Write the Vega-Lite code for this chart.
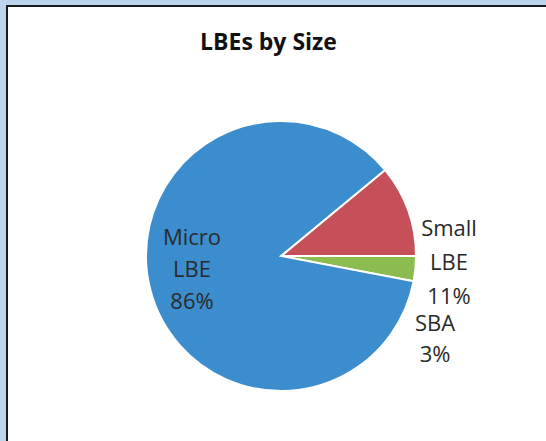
{
  "$schema": "https://vega.github.io/schema/vega-lite/v6.json",
  "width": 541,
  "height": 437,
  "autosize": {"type": "none"},
  "padding": {"left": 7, "top": 6, "right": 0, "bottom": 0},
  "background": "#bcd4ec",
  "view": {"fill": "white", "stroke": "#1a1a1a", "strokeWidth": 2},
  "title": {
    "text": "LBEs by Size",
    "font": "Open Sans",
    "fontSize": 23,
    "fontWeight": "bold",
    "color": "#111111",
    "anchor": "middle",
    "baseline": "alphabetic",
    "offset": -67,
    "dx": -9
  },
  "data": {
    "values": [
      {"cat": "Small LBE", "pct": 11, "label": "Small\nLBE\n11%"},
      {"cat": "SBA", "pct": 3, "label": "SBA\n3%"},
      {"cat": "Micro LBE", "pct": 86, "label": "Micro\nLBE\n86%"}
    ]
  },
  "encoding": {
    "theta": {"field": "pct", "type": "quantitative", "stack": true, "scale": {"range": [0.8796, 7.1628]}},
    "order": {"field": "cat", "sort": "descending"}
  },
  "layer": [
    {
      "mark": {"type": "arc", "stroke": "white", "strokeWidth": 2, "xOffset": 3.5, "yOffset": 31.5},
      "encoding": {
        "radius": {"value": 135},
        "color": {
          "field": "cat",
          "type": "nominal",
          "legend": null,
          "scale": {"domain": ["Micro LBE", "Small LBE", "SBA"], "range": ["#3b8dce", "#c6505a", "#8cbb50"]}
        }
      }
    },
    {
      "mark": {"type": "text", "font": "Open Sans", "fontSize": 22, "fontWeight": 400, "color": "#2a2a2a", "lineBreak": "\n", "lineHeight": 32, "baseline": "middle", "align": "center", "xOffset": 3.5, "yOffset": 31.5, "dx": -89, "dy": -18},
      "encoding": {
        "radius": {"value": 0},
        "text": {"condition": {"test": "datum.cat === 'Micro LBE'", "field": "label"}, "value": ""}
      }
    },
    {
      "mark": {"type": "text", "font": "Open Sans", "fontSize": 22, "fontWeight": 400, "color": "#2a2a2a", "lineBreak": "\n", "lineHeight": 34, "baseline": "middle", "align": "center", "xOffset": 3.5, "yOffset": 31.5, "dx": 168, "dy": -27},
      "encoding": {
        "radius": {"value": 0},
        "text": {"condition": {"test": "datum.cat === 'Small LBE'", "field": "label"}, "value": ""}
      }
    },
    {
      "mark": {"type": "text", "font": "Open Sans", "fontSize": 22, "fontWeight": 400, "color": "#2a2a2a", "lineBreak": "\n", "lineHeight": 31, "baseline": "middle", "align": "center", "xOffset": 3.5, "yOffset": 31.5, "dx": 154, "dy": 68},
      "encoding": {
        "radius": {"value": 0},
        "text": {"condition": {"test": "datum.cat === 'SBA'", "field": "label"}, "value": ""}
      }
    }
  ]
}
